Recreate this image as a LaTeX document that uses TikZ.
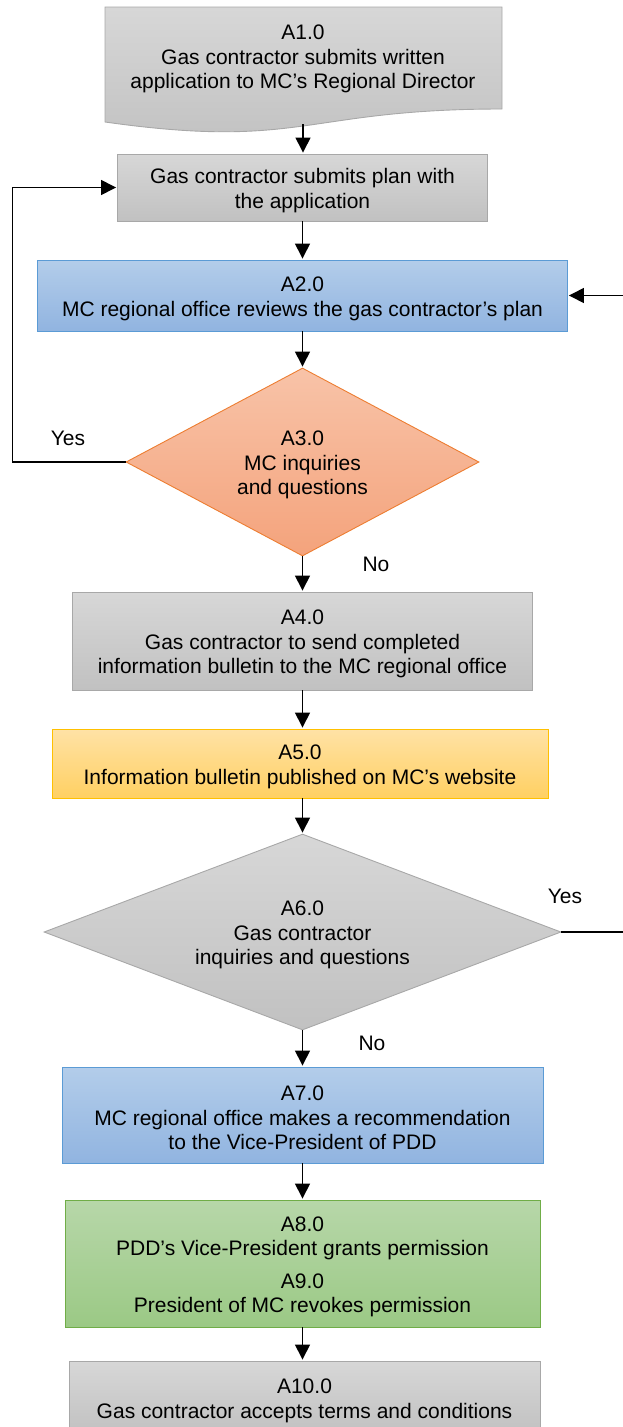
\documentclass[tikz,border=0pt]{standalone}
\usepackage{fontspec}
\setmainfont{Liberation Sans}
\usetikzlibrary{shapes.geometric,arrows.meta}

\definecolor{graytop}{HTML}{D7D7D7}
\definecolor{graybot}{HTML}{C1C1C1}
\definecolor{grayedge}{HTML}{A8A8A8}
\definecolor{bluetop}{HTML}{B3CDEA}
\definecolor{bluebot}{HTML}{91B4E0}
\definecolor{blueedge}{HTML}{5B9BD5}
\definecolor{orangetop}{HTML}{F8C3A8}
\definecolor{orangebot}{HTML}{F4A37C}
\definecolor{orangeedge}{HTML}{ED7D31}
\definecolor{yellowtop}{HTML}{FFE2A6}
\definecolor{yellowbot}{HTML}{FFD062}
\definecolor{yellowedge}{HTML}{FFC000}
\definecolor{greentop}{HTML}{B7D7A9}
\definecolor{greenbot}{HTML}{9BC985}
\definecolor{greenedge}{HTML}{70AD47}

% taller first line, so each text block sits a little lower in its shape
\newcommand\hdstrut{\rule{0pt}{21pt}}

\begin{document}
\begin{tikzpicture}[x=1pt,y=-1pt,
  txt/.style={font=\fontsize{21}{24.5}\selectfont, align=center, inner sep=0pt},
  procbox/.style={txt, rectangle, draw, line width=0.9pt},
  graybox/.style={procbox, draw=grayedge, top color=graytop, bottom color=graybot},
  bluebox/.style={procbox, draw=blueedge, top color=bluetop, bottom color=bluebot},
  yellowbox/.style={procbox, draw=yellowedge, top color=yellowtop, bottom color=yellowbot},
  greenbox/.style={procbox, draw=greenedge, top color=greentop, bottom color=greenbot},
  decision/.style={txt, diamond, draw, line width=0.9pt},
  lbl/.style={font=\fontsize{21}{24}\selectfont, inner sep=0pt},
  flow/.style={line width=1.4pt, -{Triangle[length=15pt,width=15pt]}, shorten >=1pt},
]
\useasboundingbox (0,0) rectangle (623,1427);
\clip (0,0) rectangle (623,1427);

% A1.0 document shape with wavy bottom edge
\draw[line width=0.9pt, draw=grayedge, top color=graytop, bottom color=graybot]
  (105,7) -- (502,7) -- (502,109)
  .. controls (303,109) and (303,150) .. (105,122) -- cycle;
\node[txt] (a1) at (303,56)
  {\hdstrut A1.0\\Gas contractor submits written\\application to MC’s Regional Director};
\coordinate (a1b) at (303,124);

% Process steps
\node[graybox, minimum width=370pt, minimum height=67pt] (b2) at (302.5,187.5)
  {\hdstrut Gas contractor submits plan with\\the application};
\node[bluebox, minimum width=530pt, minimum height=71pt] (a2) at (302.5,295.5)
  {\hdstrut A2.0\\MC regional office reviews the gas contractor’s plan};
\node[decision, aspect=1.88, top color=orangetop, bottom color=orangebot, draw=orangeedge,
      minimum width=353pt, minimum height=188pt] (a3) at (302.5,462)
  {\hdstrut A3.0\\MC inquiries\\and questions};
\node[graybox, minimum width=460pt, minimum height=98pt] (a4) at (302.5,641)
  {\hdstrut A4.0\\Gas contractor to send completed\\information bulletin to the MC regional office};
\node[yellowbox, minimum width=496pt, minimum height=69pt] (a5) at (300,763.5)
  {\hdstrut A5.0\\Information bulletin published on MC’s website};
\node[decision, aspect=2.64, top color=graytop, bottom color=graybot, draw=grayedge,
      minimum width=517pt, minimum height=196pt] (a6) at (302.5,932)
  {\hdstrut A6.0\\Gas contractor\\inquiries and questions};
\node[bluebox, minimum width=481pt, minimum height=96pt] (a7) at (302.5,1115)
  {\hdstrut A7.0\\MC regional office makes a recommendation\\to the Vice-President of PDD};
\node[greenbox, minimum width=475pt, minimum height=127pt] (a8) at (302.5,1263.5)
  {\hdstrut A8.0\\PDD’s Vice-President grants permission\\[8pt]A9.0\\President of MC revokes permission};
\node[graybox, minimum width=471pt, minimum height=73pt] (a10) at (304.5,1397.5)
  {\hdstrut A10.0\\Gas contractor accepts terms and conditions};

% Branch labels
\node[lbl] (yes3) at (68,438) {Yes};
\node[lbl] (no3) at (376,564) {No};
\node[lbl] (yes6) at (565,896) {Yes};
\node[lbl] (no6) at (372,1043) {No};

% Main flow
\draw[flow] (a1b) -- (a1b |- b2.north);
\draw[flow] (b2) -- (a2);
\draw[flow] (a2) -- (a3);
\draw[flow] (a3) -- (a4);
\draw[flow] (a4) -- (a5.north -| a4);
\draw[flow] (a5.south -| a6) -- (a6);
\draw[flow] (a6) -- (a7);
\draw[flow] (a7) -- (a8);
\draw[flow] (a8) -- (a8 |- a10.north);

% Return loops
\draw[flow] (a3.west) -- ++(-113,0) |- (b2.west);
\draw[flow] (a6.east) -- ++(80,0) |- (a2.east);
\end{tikzpicture}
\end{document}
